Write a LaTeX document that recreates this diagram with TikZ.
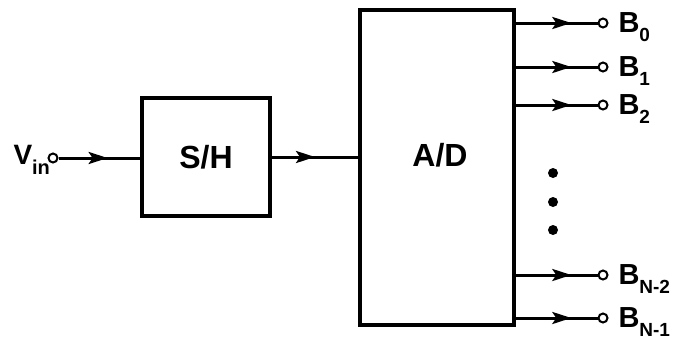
\documentclass[tikz,border=0pt]{standalone}
\usepackage{fontspec}
\setmainfont{Liberation Sans}
\usetikzlibrary{arrows.meta,decorations.markings}
\newcommand\Blab[1]{{\fontsize{29}{29}\selectfont B}\raisebox{-9pt}{\fontsize{19}{19}\selectfont #1}}
\begin{document}
\begin{tikzpicture}[x=1pt,y=-1pt,line width=3pt,font=\bfseries,
  blk/.style={draw,line width=3.2pt,inner sep=0pt,font=\bfseries\fontsize{32}{32}\selectfont},
  term/.style={circle,draw,line width=2pt,minimum size=9pt,inner sep=0pt,fill=white},
  lab/.style={inner sep=0pt,anchor=base west},
  flow/.style={postaction={decorate},decoration={markings,mark=at position #1 with {\arrow{Stealth[length=19pt,width=12pt,inset=4pt]}}}},
  dotnode/.style={circle,fill=black,inner sep=0pt,minimum size=10pt}
]
\useasboundingbox (0,0) rectangle (674,341);
% blocks
\node[blk,minimum width=128pt,minimum height=118pt] (sh) at (206,157) {S/H};
\node[blk,minimum width=154pt,minimum height=315pt] (ad) at (437,167.5) {};
\node[inner sep=0pt,font=\bfseries\fontsize{32}{32}\selectfont] (adl) at (440,155) {A/D};
% input
\node[term] (vin) at (53,158) {};
\node[lab,font=\bfseries] (vinl) at (12,164) {{\fontsize{28}{28}\selectfont V}\raisebox{-10pt}{\fontsize{20}{20}\selectfont in}};
\draw[flow=0.6] (vin) -- (sh.west |- vin);
\draw[flow=0.5] (sh.east) -- (ad.west |- sh.east);
% outputs
\foreach \i/\yy/\s in {0/23/0,1/67/1,2/105/2,3/275/N-2,4/318/N-1}{
  \node[term] (o\i) at (603,\yy) {};
  \draw[flow=0.68] (ad.east |- o\i) -- (o\i);
  \node[lab] (l\i) at (617,\yy+9.5) {\Blab{\s}};
}
% dots
\node[dotnode] (d1) at (553,173) {};
\node[dotnode] (d2) at (553,202) {};
\node[dotnode] (d3) at (553,230) {};
\end{tikzpicture}
\end{document}
